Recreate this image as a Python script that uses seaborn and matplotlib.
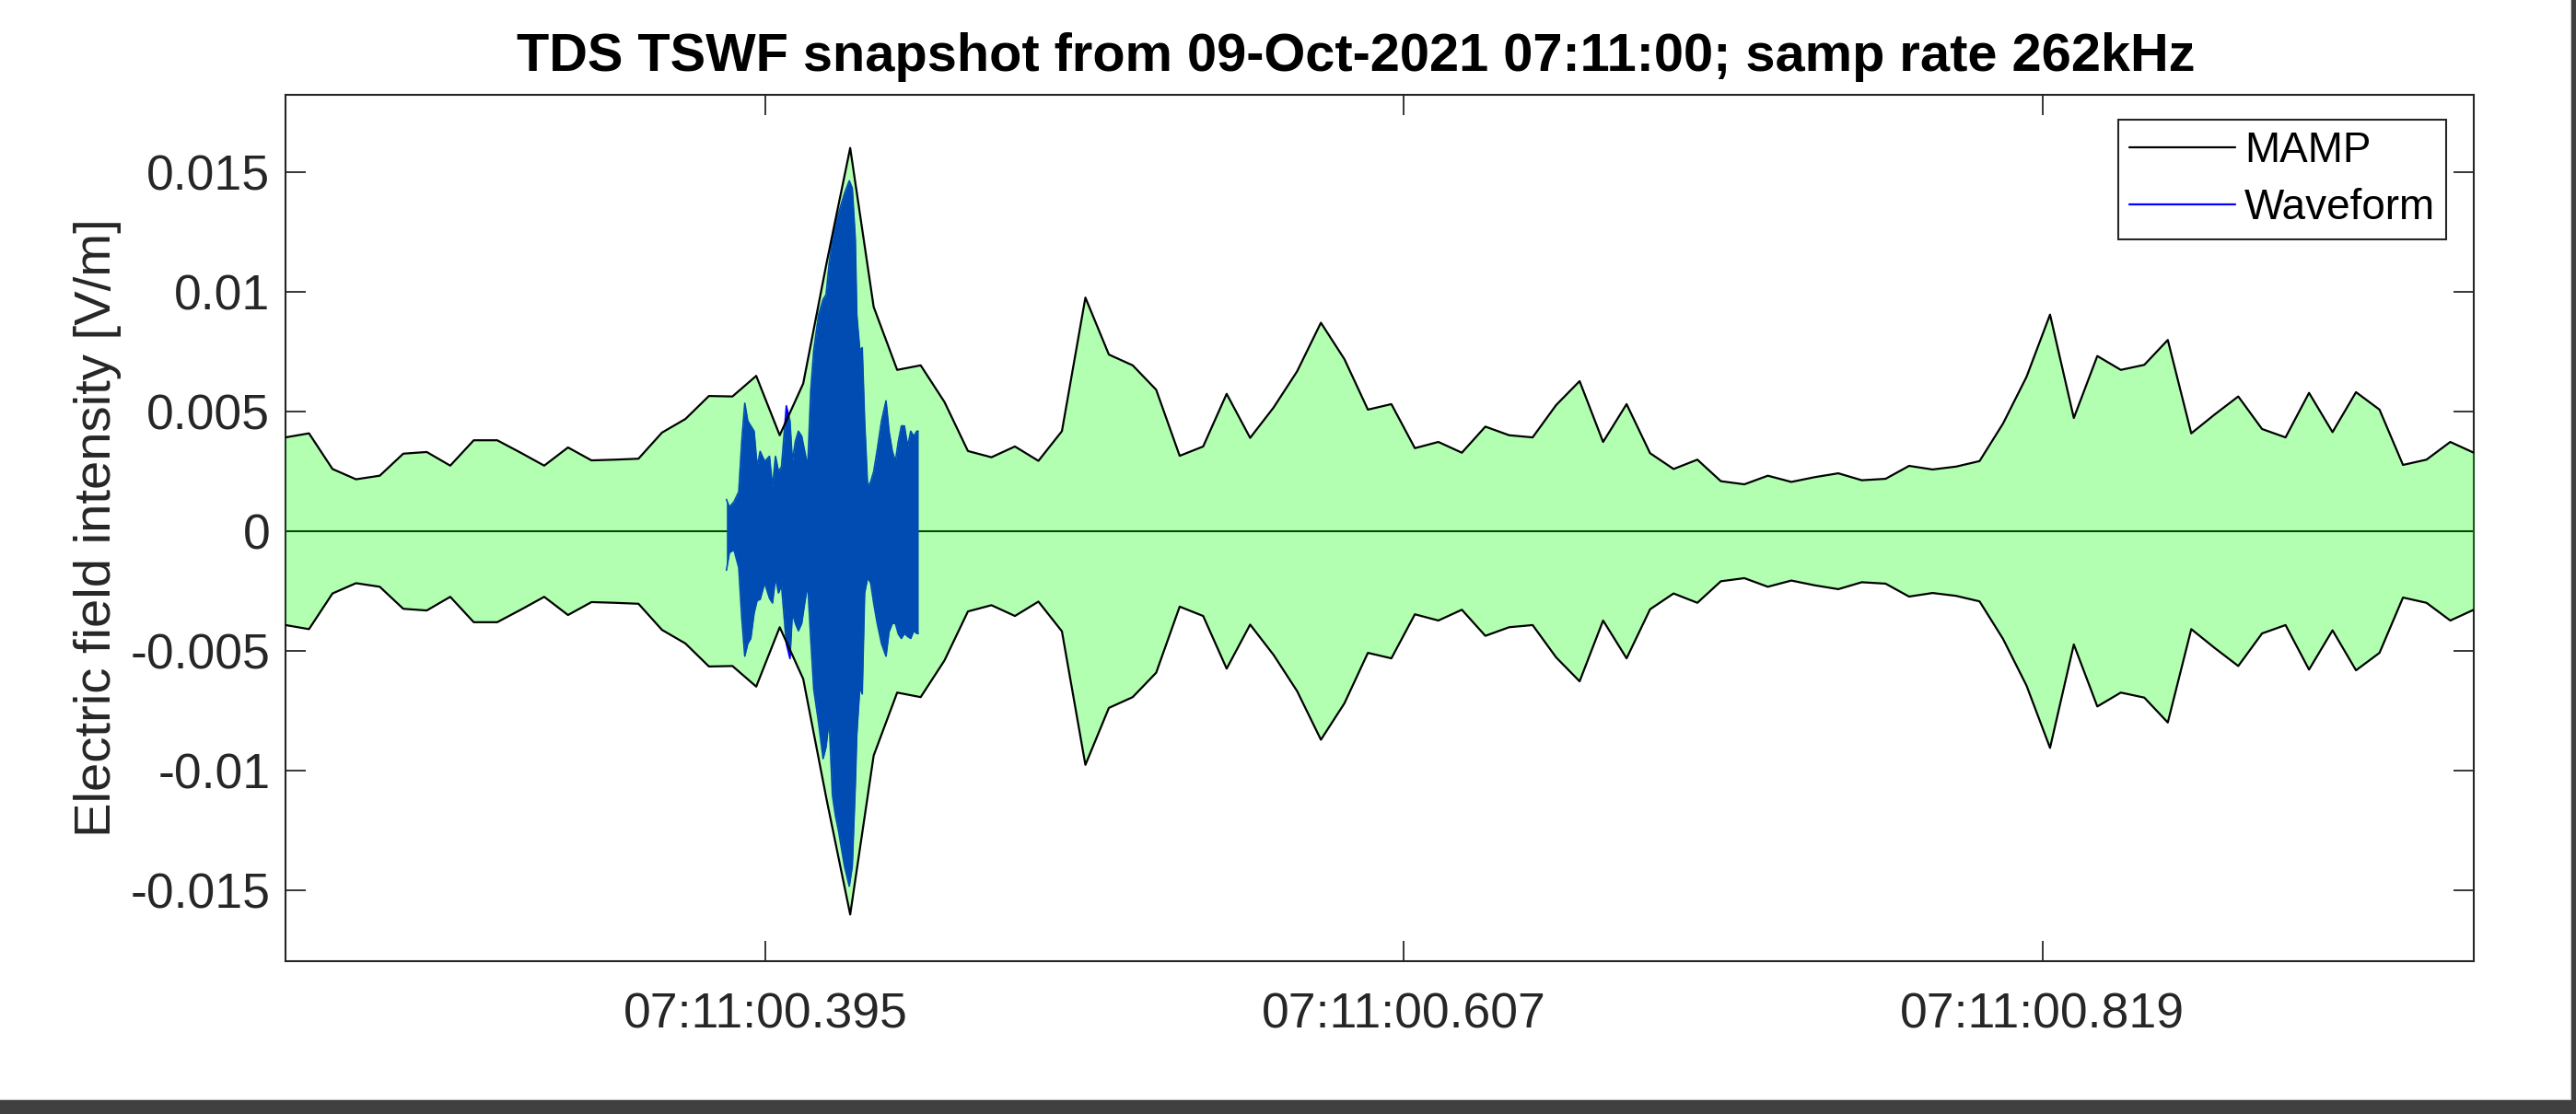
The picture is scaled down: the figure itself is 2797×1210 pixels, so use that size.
import numpy as np
import pandas as pd
import matplotlib
matplotlib.use("Agg")
import matplotlib.pyplot as plt
import seaborn as sns
from matplotlib.patches import Rectangle

# ---------------- data (seconds after 07:11:00, V/m) ----------------
mamp_t = [0.2356, 0.2434, 0.2512, 0.2590, 0.2669, 0.2747, 0.2825, 0.2903, 0.2981, 0.3059,
          0.3137, 0.3215, 0.3294, 0.3372, 0.3450, 0.3528, 0.3606, 0.3684, 0.3762, 0.3840,
          0.3919, 0.3997, 0.4075, 0.4153, 0.4231, 0.4309, 0.4387, 0.4465, 0.4544, 0.4622,
          0.4700, 0.4778, 0.4856, 0.4934, 0.5012, 0.5090, 0.5169, 0.5247, 0.5325, 0.5403,
          0.5481, 0.5559, 0.5637, 0.5715, 0.5794, 0.5872, 0.5950, 0.6028, 0.6106, 0.6184,
          0.6262, 0.6340, 0.6419, 0.6497, 0.6575, 0.6653, 0.6731, 0.6809, 0.6887, 0.6965,
          0.7044, 0.7122, 0.7200, 0.7278, 0.7356, 0.7434, 0.7512, 0.7590, 0.7669, 0.7747,
          0.7825, 0.7903, 0.7981, 0.8059, 0.8137, 0.8215, 0.8294, 0.8372, 0.8450, 0.8528,
          0.8606, 0.8684, 0.8762, 0.8840, 0.8919, 0.8997, 0.9075, 0.9153, 0.9231, 0.9309,
          0.9387, 0.9465, 0.9544, 0.9622]
mamp = [0.00392, 0.00409, 0.00260, 0.00217, 0.00232, 0.00324, 0.00331, 0.00274, 0.00380, 0.00380,
        0.00328, 0.00274, 0.00350, 0.00296, 0.00299, 0.00303, 0.00412, 0.00469, 0.00565, 0.00563,
        0.00649, 0.00401, 0.00617, 0.01123, 0.01601, 0.00937, 0.00674, 0.00693, 0.00540, 0.00335,
        0.00309, 0.00354, 0.00294, 0.00418, 0.00976, 0.00738, 0.00693, 0.00591, 0.00315, 0.00354,
        0.00574, 0.00390, 0.00517, 0.00668, 0.00871, 0.00719, 0.00508, 0.00531, 0.00347, 0.00373,
        0.00328, 0.00437, 0.00401, 0.00392, 0.00527, 0.00627, 0.00373, 0.00531, 0.00326, 0.00260,
        0.00299, 0.00209, 0.00196, 0.00232, 0.00206, 0.00226, 0.00242, 0.00213, 0.00219, 0.00273,
        0.00258, 0.00270, 0.00293, 0.00450, 0.00645, 0.00905, 0.00473, 0.00732, 0.00674, 0.00695,
        0.00799, 0.00409, 0.00488, 0.00563, 0.00427, 0.00392, 0.00578, 0.00414, 0.00581, 0.00508,
        0.00277, 0.00299, 0.00373, 0.00328]

wave_t = [0.3820, 0.3830, 0.3845, 0.3861, 0.3871, 0.3881, 0.3891, 0.3901, 0.3912, 0.3922,
          0.3932, 0.3947, 0.3963, 0.3973, 0.3983, 0.3993, 0.4003, 0.4019, 0.4031, 0.4039,
          0.4049, 0.4059, 0.4070, 0.4080, 0.4090, 0.4100, 0.4110, 0.4126, 0.4141, 0.4151,
          0.4161, 0.4172, 0.4182, 0.4192, 0.4212, 0.4228, 0.4238, 0.4248, 0.4253, 0.4263,
          0.4271, 0.4279, 0.4289, 0.4299, 0.4309, 0.4320, 0.4335, 0.4350, 0.4360, 0.4371,
          0.4381, 0.4391, 0.4401, 0.4411, 0.4422, 0.4432, 0.4442, 0.4452, 0.4457]
wave_max = [0.00133, 0.00101, 0.00123, 0.00165, 0.00376, 0.00535, 0.00461, 0.00440, 0.00418, 0.00270,
            0.00334, 0.00292, 0.00313, 0.00186, 0.00313, 0.00249, 0.00270, 0.00524, 0.00461, 0.00292,
            0.00376, 0.00418, 0.00397, 0.00334, 0.00270, 0.00587, 0.00756, 0.00904, 0.00968, 0.00989,
            0.01116, 0.01221, 0.01285, 0.01327, 0.01411, 0.01464, 0.01433, 0.01221, 0.00904, 0.00756,
            0.00767, 0.00461, 0.00186, 0.00207, 0.00249, 0.00334, 0.00461, 0.00545, 0.00418, 0.00334,
            0.00292, 0.00376, 0.00440, 0.00440, 0.00355, 0.00418, 0.00397, 0.00418, 0.00418]
wave_min = [-0.00163, -0.00089, -0.00078, -0.00152, -0.00363, -0.00522, -0.00469, -0.00448, -0.00342, -0.00289,
            -0.00285, -0.00216, -0.00280, -0.00300, -0.00194, -0.00258, -0.00226, -0.00470, -0.00532, -0.00342,
            -0.00385, -0.00416, -0.00385, -0.00300, -0.00220, -0.00450, -0.00660, -0.00800, -0.00950, -0.00900,
            -0.00786, -0.01103, -0.01188, -0.01250, -0.01399, -0.01483, -0.01399, -0.01061, -0.00850, -0.00650,
            -0.00680, -0.00258, -0.00194, -0.00216, -0.00300, -0.00380, -0.00470, -0.00522, -0.00420, -0.00385,
            -0.00385, -0.00430, -0.00448, -0.00427, -0.00440, -0.00448, -0.00416, -0.00427, -0.00427]

xtick_vals = [0.395, 0.607, 0.819]
xtick_labels = ["07:11:00.395", "07:11:00.607", "07:11:00.819"]
ytick_vals = [0.015, 0.01, 0.005, 0.0, -0.005, -0.01, -0.015]
ytick_labels = ["0.015", "0.01", "0.005", "0", "-0.005", "-0.01", "-0.015"]
title_text = "TDS TSWF snapshot from 09-Oct-2021 07:11:00; samp rate 262kHz"
ylabel_text = "Electric field intensity [V/m]"
legend_labels = ["MAMP", "Waveform"]

# ---------------- style ----------------
sns.set_theme(style="white")
plt.rcParams["font.family"] = ["Liberation Sans", "DejaVu Sans"]
plt.rcParams["axes.unicode_minus"] = False

W, H = 2797, 1210
fig = plt.figure(figsize=(W / 100, H / 100), dpi=100)
fig.patch.set_facecolor("white")
ax = fig.add_axes([310 / W, 1 - 1044 / H, (2686 - 310) / W, (1044 - 103) / H])

mamp_df = pd.DataFrame({"t": mamp_t, "upper": mamp, "lower": -np.asarray(mamp)})
wave_df = pd.DataFrame({"t": wave_t, "wmax": wave_max, "wmin": wave_min})

dark = "#262626"

# zero line (under the translucent green band)
ax.axhline(0, color="black", lw=1.5, zorder=1)

# waveform (dense oscillation shown by its extremes)
ax.fill_between(wave_df["t"], wave_df["wmin"], wave_df["wmax"], color="#0000ff", lw=0, zorder=1.5)
sns.lineplot(data=wave_df, x="t", y="wmax", color="#0000ff", lw=1.2, ax=ax, zorder=1.6,
             label=legend_labels[1])
sns.lineplot(data=wave_df, x="t", y="wmin", color="#0000ff", lw=1.2, ax=ax, zorder=1.6)

# MAMP band
ax.fill_between(mamp_df["t"], mamp_df["lower"], mamp_df["upper"], color="#00ff00", alpha=0.3,
                lw=0, zorder=3)
sns.lineplot(data=mamp_df, x="t", y="upper", color="black", lw=1.6, ax=ax, zorder=4,
             label=legend_labels[0])
sns.lineplot(data=mamp_df, x="t", y="lower", color="black", lw=1.6, ax=ax, zorder=4)

ax.set_xlim(mamp_t[0], mamp_t[-1])
ax.set_ylim(-0.01796, 0.01823)
ax.set_xticks(xtick_vals)
ax.set_xticklabels(xtick_labels)
ax.set_yticks(ytick_vals)
ax.set_yticklabels(ytick_labels)
ax.set_xlabel("")
ax.set_ylabel(ylabel_text, fontsize=40.5, color=dark)
ax.yaxis.set_label_coords((132 - 310) / (2686 - 310), 0.5)

ax.tick_params(axis="both", which="major", direction="in", length=15.5, width=1.3,
               color=dark, labelcolor=dark, labelsize=38.5, top=True, right=True,
               bottom=True, left=True)
ax.tick_params(axis="x", pad=24)
ax.tick_params(axis="y", pad=12)

for s in ax.spines.values():
    s.set_visible(True)
    s.set_color(dark)
    s.set_linewidth(1.5)
    s.set_zorder(2.5)

ax.set_title(title_text, fontsize=41.6, fontweight="bold", color="black", pad=18.7,
             x=(1472 - 310) / (2686 - 310))

handles, labels = ax.get_legend_handles_labels()
order = [labels.index(l) for l in legend_labels]
leg = ax.legend([handles[i] for i in order], [labels[i] for i in order],
                loc="upper right", bbox_to_anchor=((2656 - 310) / 2376, (1044 - 130) / 941),
                borderaxespad=0, fontsize=33, frameon=True, fancybox=False, shadow=False,
                framealpha=1, edgecolor=dark, handlelength=2.5, handletextpad=0.22,
                borderpad=0.26, labelspacing=0.39)
leg.get_frame().set_linewidth(1.5)
leg.set_zorder(10)
for txt in leg.get_texts():
    txt.set_color("black")
for ln in leg.get_lines():
    ln.set_linewidth(1.6)

# screenshot frame (bottom and right dark bars with a light inner edge)
fig.add_artist(Rectangle((0, 0), 1, 15 / H, transform=fig.transFigure, color="#404040", lw=0))
fig.add_artist(Rectangle((2792 / W, 0), 5 / W, 1, transform=fig.transFigure, color="#404040", lw=0))
fig.add_artist(Rectangle((0, 15 / H), 2792 / W, 1.5 / H, transform=fig.transFigure, color="#c8c8c8", lw=0))
fig.add_artist(Rectangle((2790.5 / W, 15 / H), 1.5 / W, 1 - 15 / H, transform=fig.transFigure,
                         color="#c8c8c8", lw=0))

fig.savefig("out.png", dpi=100, facecolor="white")
